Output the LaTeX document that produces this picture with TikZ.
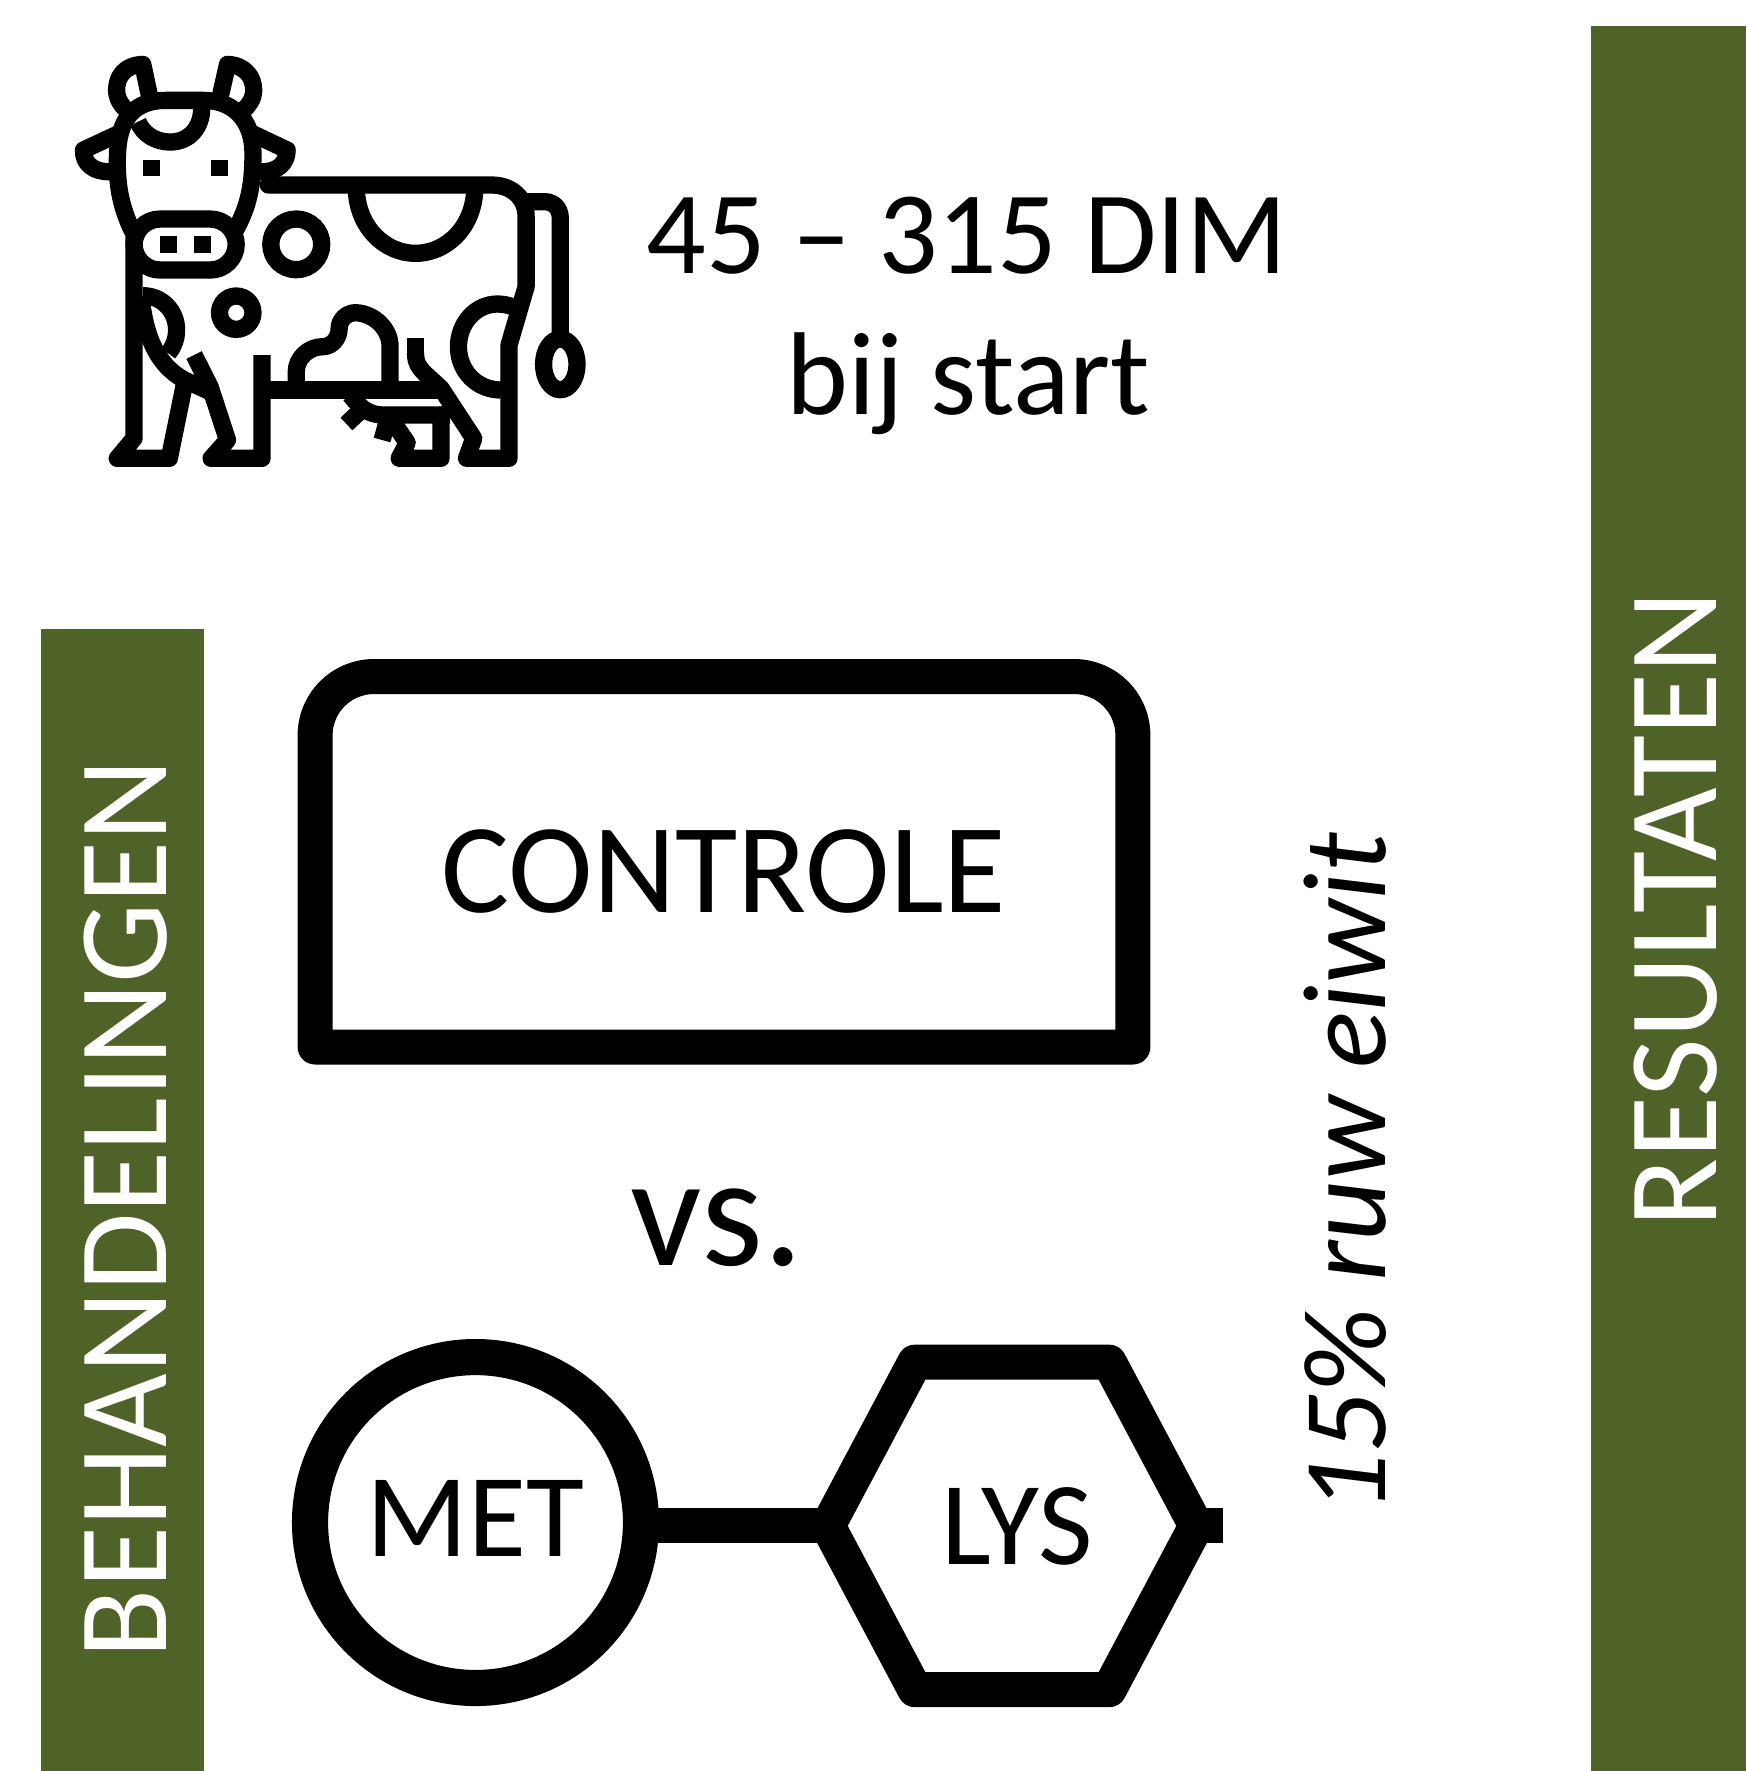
\documentclass[tikz,border=0pt]{standalone}
\usepackage{fontspec}
\setmainfont{Carlito}
\definecolor{barg}{HTML}{4F6228}
\tikzset{
  bar/.style={fill=barg,draw=none},
  bartext/.style={rotate=90,anchor=base,text=white,inner sep=0pt,font=\fontsize{112.7}{130}\selectfont},
  lbl/.style={anchor=base,inner sep=0pt,text=black},
  cowline/.style={line width=15.3pt,line join=round,line cap=round},
  cowbutt/.style={line width=15.3pt,line join=round,line cap=butt},
  thick shape/.style={line width=31pt,line join=round},
}
\begin{document}
\begin{tikzpicture}[x=1pt,y=-1pt]
\useasboundingbox (0,0) rectangle (1546,1568);
\fill[white] (0,0) rectangle (1546,1568);
% bars
\fill[bar] (36,557) rectangle (181,1568);
\fill[bar] (1409,23) rectangle (1546,1568);
\node[bartext] (beh) at (147,1070) {BEHANDELINGEN};
\node[bartext] (res) at (1520,805) {RESULTATEN};
% top text
\node[lbl,font=\fontsize{104.3}{120}\selectfont] (dim) at (856,242) {45 – 315 DIM};
\node[lbl,font=\fontsize{104.3}{120}\selectfont] (start) at (857.5,367) {bij start};
% control box
\draw[thick shape] (279,927) -- (279,780) [rounded corners=52pt] -- (279,599) -- (1003,599) [sharp corners] -- (1003,780) -- (1003,927) -- cycle;
\node[lbl,font=\fontsize{113}{130}\selectfont] (ctrl) at (641,808) {CONTROLE};
\node[lbl,font=\fontsize{140}{150}\selectfont] (vs) at (635,1120) {vs.};
\node[lbl,rotate=90,font=\itshape\fontsize{105}{120}\selectfont] (eiwit) at (1227,1039) {15\% ruw eiwit};
% MET-LYS
\node[draw,circle,line width=32pt,minimum size=293pt,inner sep=0pt] (met) at (421,1348) {};
\node[lbl,font=\fontsize{105}{120}\selectfont] (mettext) at (421,1378) {MET};
\coordinate (hl) at (733,1351);
\coordinate (hr) at (1059,1351);
\draw[line width=31pt,line join=round] (hl) -- (810,1206) -- (982,1206) -- (hr) -- (982,1496) -- (810,1496) -- cycle;
\node[lbl,font=\fontsize{105}{120}\selectfont] (lys) at (900.5,1385) {LYS};
\coordinate (free) at (1083,1351);
\draw[line width=31pt] ([xshift=-6pt]met.east |- hl) -- (hl);
\draw[line width=31pt] (hr) -- (free);
% cow
\begin{scope}[xshift=44.3pt,yshift=-26.6pt,x=0.322pt,y=-0.2951pt]
% horns
\draw[cowline] (272,190) -- (255,103) .. controls (205,105) and (183,140) .. (183,180) .. controls (183,205) and (195,225) .. (210,240);
\draw[cowline] (470,190) -- (488,103) .. controls (535,105) and (560,140) .. (560,180) .. controls (560,205) and (548,225) .. (532,240);
% head
\draw[cowline] (225,600) .. controls (195,530) and (185,470) .. (185,400) .. controls (185,330) and (190,211) .. (320,211) -- (420,211) .. controls (520,211) and (558,290) .. (558,370) .. controls (558,470) and (545,530) .. (510,600);
% forelock
\draw[cowbutt] (417,235) .. controls (417,290) and (385,336) .. (330,336) .. controls (290,336) and (255,312) .. (242,275);
% ears
\draw[cowline] (190,310) -- (92,360) .. controls (90,400) and (120,427) .. (165,425);
\draw[cowline] (555,310) -- (652,360) .. controls (652,400) and (625,427) .. (580,425);
% eyes, nostrils
\fill (255,390) rectangle (302,438);
\fill (443,390) rectangle (490,438);
\fill (302,618) rectangle (348,670);
\fill (395,618) rectangle (442,670);
% muzzle
\draw[line width=15.3pt,rounded corners=23pt] (231,567) rectangle (512,720);
% back, rump
\draw[cowline] (600,465) -- (1215,465) .. controls (1270,465) and (1309,505) .. (1309,560) -- (1309,770) -- (1262,945) -- (1262,1285) -- (1145,1285) -- (1165,1225) -- (1075,1075) -- (1040,1040) .. controls (1015,1015) and (1005,1000) .. (1005,970);
\draw[cowbutt] (1005,970) -- (1005,925);
% tail
\draw[cowline] (1310,515) -- (1360,515) .. controls (1385,515) and (1403,535) .. (1403,565) -- (1403,920);
\draw[line width=15.3pt] (1403,1003) ellipse [x radius=46,y radius=76];
% saddle
\draw[cowbutt] (842,470) .. controls (842,590) and (920,670) .. (1005,670) .. controls (1090,670) and (1168,590) .. (1168,470);
% spots
\draw[line width=15.3pt] (677,643) ellipse [x radius=70,y radius=76];
\draw[line width=15.3pt] (512,848) ellipse [x radius=46,y radius=50];
% front leg
\draw[cowline] (231,600) -- (231,1225) -- (185,1285) -- (328,1285) -- (370,1060);
\draw[cowbutt] (255,797) .. controls (310,797) and (348,845) .. (348,900) .. controls (348,925) and (340,950) .. (325,970);
\draw[cowbutt] (250,800) .. controls (260,900) and (285,1000) .. (370,1050) -- (440,1085);
% second leg
\draw[cowbutt] (396,975) -- (440,1070) -- (488,1230) -- (443,1285) -- (583,1285) -- (583,975);
% belly
\draw[cowbutt] (583,1080) -- (1085,1080);
% udder blob
\draw[cowbutt] (677,1075) -- (677,1025) .. controls (677,985) and (710,950) .. (750,950) .. controls (775,950) and (795,925) .. (795,895) .. controls (795,870) and (815,848) .. (840,848) .. controls (890,850) and (935,895) .. (935,950) -- (935,1075);
% flank
\draw[cowbutt] (1272,830) .. controls (1258,825) and (1245,822) .. (1230,822) .. controls (1170,822) and (1123,880) .. (1123,950) .. controls (1123,1025) and (1175,1080) .. (1240,1080);
% udder
\draw[cowbutt] (825,1095) .. controls (850,1130) and (875,1155) .. (915,1155) -- (1100,1155);
\draw[cowbutt] (815,1182) -- (848,1148);
\draw[cowbutt] (913,1230) -- (928,1170);
\draw[cowline] (955,1195) -- (982,1238) -- (960,1285) -- (1075,1285) -- (1075,1155);
\end{scope}
\end{tikzpicture}
\end{document}
